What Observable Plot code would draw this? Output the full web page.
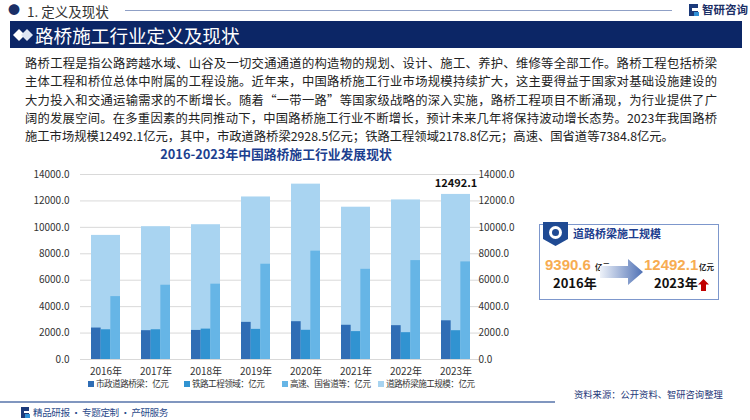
<!DOCTYPE html>
<html><head><meta charset="utf-8">
<script src="https://cdn.jsdelivr.net/npm/d3@7"></script>
<script src="https://cdn.jsdelivr.net/npm/@observablehq/plot@0.6"></script>
<style>
body{margin:0;width:750px;height:420px;position:relative;overflow:hidden;background:#fff;font-family:"Noto Sans CJK SC","Noto Sans",sans-serif;}
.abs{position:absolute;white-space:nowrap;}
.one{line-height:1;}
.num{font-family:"Liberation Sans",Arial,sans-serif;}
.para div{height:18.3px;line-height:18.3px;text-align:justify;text-align-last:justify;}
.para div.last{text-align-last:left;height:15px;line-height:18.3px;}
.leg{font-size:8.6px;letter-spacing:-0.55px;color:#333;line-height:1;}
.leg span.sw{display:inline-block;width:6px;height:6px;margin-right:2px;vertical-align:0px;}
</style></head><body>
<!-- header -->
<div class="abs" style="left:8px;top:1px;font-size:12px;color:#1b2f66;">●</div>
<div class="abs" style="left:27px;top:1px;font-size:13.5px;color:#333;">1. 定义及现状</div>
<div class="abs" style="left:125px;top:10px;width:547px;height:1px;background:#8fa0c6;"></div>
<svg class="abs" style="left:688px;top:3px" width="12" height="14"><path d="M1 1h9v4H4v3h6v5H1z" fill="#1b3a7a"/><rect x="6" y="9" width="5" height="4" fill="#2f8fd6"/></svg>
<div class="abs" style="left:702px;top:1px;font-size:11.5px;font-weight:bold;color:#1b2f66;">智研咨询</div>
<div class="abs" style="left:10px;top:21px;width:732px;height:27px;background:#0c2666;"></div>
<svg class="abs" style="left:13px;top:27px" width="22" height="16"><path d="M6 2l6 6-6 6-6-6z" fill="#fff"/><path d="M14 2l6 6-6 6-6-6z" fill="#dfe6f3"/></svg>
<div class="abs" style="left:35px;top:22px;font-size:18.6px;line-height:26px;color:#fff;">路桥施工行业定义及现状</div>
<!-- paragraph -->
<div class="abs para" style="left:25px;top:54px;width:692px;font-size:12.3px;color:#222;white-space:normal;">
<div>路桥工程是指公路跨越水域、山谷及一切交通通道的构造物的规划、设计、施工、养护、维修等全部工作。路桥工程包括桥梁</div>
<div>主体工程和桥位总体中附属的工程设施。近年来，中国路桥施工行业市场规模持续扩大，这主要得益于国家对基础设施建设的</div>
<div>大力投入和交通运输需求的不断增长。随着“一带一路”等国家级战略的深入实施，路桥工程项目不断涌现，为行业提供了广</div>
<div>阔的发展空间。在多重因素的共同推动下，中国路桥施工行业不断增长，预计未来几年将保持波动增长态势。2023年我国路桥</div>
<div class="last">施工市场规模12492.1亿元，其中，市政道路桥梁2928.5亿元；铁路工程领域2178.8亿元；高速、国省道等7384.8亿元。</div>
</div>
<div class="abs one" style="left:0;top:148px;width:552px;text-align:center;font-size:12.8px;font-weight:bold;color:#1c3f8f;">2016-2023年中国路桥施工行业发展现状</div>
<div id="chart" class="abs" style="left:0;top:160px;"></div>
<!-- legend -->
<div class="abs leg" style="left:88px;top:379px;"><span class="sw" style="background:#2f6db5"></span>市政道路桥梁：亿元</div>
<div class="abs leg" style="left:184px;top:379px;"><span class="sw" style="background:#3193d1"></span>铁路工程领域：亿元</div>
<div class="abs leg" style="left:282px;top:379px;"><span class="sw" style="background:#66b5e6"></span>高速、国省道等：亿元</div>
<div class="abs leg" style="left:378px;top:379px;"><span class="sw" style="background:#a7d3f0"></span>道路桥梁施工规模：亿元</div>
<!-- right panel -->
<div class="abs" style="left:539px;top:224px;width:178px;height:74px;border:1px solid #7d97cc;"></div>
<svg class="abs" style="left:543px;top:222px" width="25" height="24"><path d="M0 0h25v17l-12.5 7L0 17z" fill="#1f4a93"/><circle cx="12.5" cy="10.5" r="6.5" fill="#fff"/><circle cx="12.5" cy="10.5" r="3.5" fill="#1f4a93"/></svg>
<div class="abs one" style="left:573px;top:228px;font-size:11px;font-weight:bold;color:#1f3f8f;">道路桥梁施工规模</div>
<div class="abs one num" style="left:545px;top:257px;font-size:15px;font-weight:bold;color:#f7ac52;">9390.6</div>
<div class="abs one" style="left:595px;top:263px;font-size:7.5px;font-weight:bold;color:#222;">亿元</div>
<div class="abs one" style="left:553px;top:276px;font-size:13px;font-weight:bold;color:#111;">2016年</div>
<svg class="abs" style="left:600px;top:258px" width="44" height="28"><defs><linearGradient id="ga" x1="0" x2="1"><stop offset="0" stop-color="#eef2f9"/><stop offset="1" stop-color="#4f71b5"/></linearGradient></defs><path d="M0 8h28V1l15 13-15 13v-7H0z" fill="url(#ga)"/></svg>
<div class="abs one num" style="left:644px;top:257px;font-size:15px;font-weight:bold;color:#f7ac52;">12492.1</div>
<div class="abs one" style="left:699px;top:263px;font-size:7.5px;font-weight:bold;color:#222;">亿元</div>
<div class="abs one" style="left:654px;top:276px;font-size:13px;font-weight:bold;color:#111;">2023年</div>
<svg class="abs" style="left:698px;top:279px" width="11" height="12"><path d="M5.5 0l5.5 5.5H8V12H3V5.5H0z" fill="#c00000"/></svg>
<!-- footer -->
<div class="abs" style="left:0;top:401px;width:555px;height:2px;background:#8096bf;"></div>
<svg class="abs" style="left:20px;top:406px" width="11" height="13"><path d="M1 1h8v4H4v2h5v5H1z" fill="#1b3a7a"/><rect x="5" y="8" width="5" height="4" fill="#2f8fd6"/></svg>
<div class="abs one" style="left:33px;top:408px;font-size:9.6px;letter-spacing:-0.45px;color:#2b4a8a;">精品研报 · 专题定制 · 产研服务</div>
<div class="abs one" style="left:574px;top:390px;font-size:9.3px;color:#1f3a7a;">资料来源：公开资料、智研咨询整理</div>
<script>
const years = ["2016年","2017年","2018年","2019年","2020年","2021年","2022年","2023年"];
const municipal = [2380, 2180, 2200, 2810, 2860, 2590, 2560, 2928.5];
const railway   = [2250, 2250, 2300, 2280, 2210, 2110, 2030, 2178.8];
const highway   = [4760, 5620, 5700, 7210, 8200, 6825, 7485, 7384.8];
const total     = [9390.6, 10050, 10200, 12300, 13270, 11525, 12075, 12492.1];
const yTicks = [0, 2000, 4000, 6000, 8000, 10000, 12000, 14000];

const rows = years.map((y, i) => ({year: y, municipal: municipal[i], railway: railway[i], highway: highway[i], total: total[i]}));
const bw = 29, third = bw / 3;
const chart = Plot.plot({
  width: 530, height: 220,
  marginLeft: 80, marginRight: 50, marginTop: 14, marginBottom: 21,
  style: {fontFamily: '"Noto Sans CJK SC", sans-serif', fontSize: "10px", color: "#333"},
  x: {domain: years, paddingInner: 0.42, paddingOuter: 0.21, label: null},
  y: {domain: [0, 14000], label: null},
  marks: [
    Plot.gridY(yTicks, {stroke: "#d9d9d9", strokeOpacity: 1}),
    Plot.axisY(yTicks, {anchor: "left", tickSize: 0, tickPadding: 11, tickFormat: d3.format(".1f"), label: null}),
    Plot.axisY(yTicks, {anchor: "right", tickSize: 0, tickPadding: -2, tickFormat: d3.format(".1f"), label: null}),
    Plot.axisX({tickSize: 0, tickPadding: 8, label: null}),
    Plot.barY(rows, {x: "year", y: "total", fill: "#a9d4f1"}),
    Plot.barY(rows, {x: "year", y: "municipal", fill: "#2f6db5", insetRight: 2 * third}),
    Plot.barY(rows, {x: "year", y: "railway", fill: "#3193d1", insetLeft: third, insetRight: third}),
    Plot.barY(rows, {x: "year", y: "highway", fill: "#66b5e6", insetLeft: 2 * third}),
    Plot.text(rows.filter(d => d.year === "2023年"), {x: "year", y: "total", text: d => d.total.toFixed(1), dy: -11, fontWeight: "bold", fontSize: 11, fill: "#111"})
  ]
});
document.getElementById("chart").appendChild(chart);
</script>
</body></html>
